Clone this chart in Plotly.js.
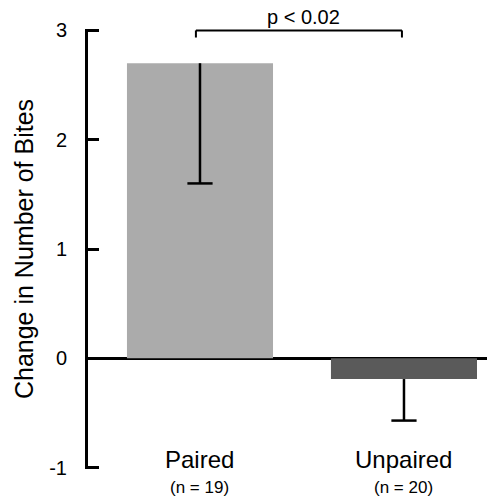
<!DOCTYPE html>
<html>
<head>
<meta charset="utf-8">
<script src="https://cdn.plot.ly/plotly-3.0.1.min.js"></script>
<style>html,body{margin:0;padding:0;background:#fff;}#chart{width:487px;height:497px;}</style>
</head>
<body>
<div id="chart"></div>
<script>
const categories = ['Paired', 'Unpaired'];
const sampleSizes = ['(n = 19)', '(n = 20)'];
const meanChange = [2.70, -0.19];
const errMinus = [1.10, 0.38];
const barColors = ['#ababab', '#5a5a5a'];
const yTicks = [-1, 0, 1, 2, 3];
const pLabel = 'p < 0.02';
const yTitle = 'Change in Number of Bites';

const FONT = 'Liberation Sans, Arial, Helvetica, sans-serif';

const traces = [{
  type: 'bar',
  x: categories,
  y: meanChange,
  width: 0.716,
  marker: {color: barColors, line: {width: 0}},
  hoverinfo: 'skip',
  showlegend: false
}];

categories.forEach((c, i) => {
  const low = meanChange[i] - errMinus[i];
  traces.push({
    type: 'scatter', mode: 'lines',
    x: [c, c], y: [meanChange[i], low],
    line: {color: '#000', width: 2.5},
    hoverinfo: 'skip', showlegend: false
  });
  traces.push({
    type: 'scatter', mode: 'markers',
    x: [c], y: [low],
    marker: {symbol: 'line-ew', size: 18, line: {color: '#000', width: 2.5}},
    hoverinfo: 'skip', showlegend: false
  });
});

const annotations = [];
categories.forEach((c, i) => {
  annotations.push({
    x: i, xref: 'x', y: 0.0205, yref: 'paper', yanchor: 'middle',
    text: c, showarrow: false, font: {family: FONT, size: 24, color: '#000'}
  });
  annotations.push({
    x: i, xref: 'x', y: -0.041, yref: 'paper', yanchor: 'middle',
    text: sampleSizes[i], showarrow: false, font: {family: FONT, size: 17, color: '#000'}
  });
});
annotations.push({
  x: 0.505, xref: 'x', y: 1.027, yref: 'paper', yanchor: 'middle',
  text: pLabel, showarrow: false, font: {family: FONT, size: 20, color: '#000'}
});

const br = {color: '#000', width: 2};
const shapes = [
  {type: 'line', xref: 'x', yref: 'y', x0: -0.02, x1: -0.02, y0: 2.935, y1: 3.0, line: br},
  {type: 'line', xref: 'x', yref: 'y', x0: -0.02, x1: 0.99, y0: 3.0, y1: 3.0, line: br},
  {type: 'line', xref: 'x', yref: 'y', x0: 0.99, x1: 0.99, y0: 2.935, y1: 3.0, line: br}
];

const layout = {
  width: 487, height: 497,
  margin: {l: 88, r: 0, t: 29, b: 28, pad: 0},
  paper_bgcolor: '#fff', plot_bgcolor: '#fff',
  font: {family: FONT, color: '#000'},
  showlegend: false,
  xaxis: {
    type: 'category', range: [-0.549, 1.407],
    showticklabels: false, showline: false, zeroline: false, showgrid: false, ticks: ''
  },
  yaxis: {
    range: [-1.013, 3.013], tickvals: yTicks, ticktext: yTicks.map(String),
    showline: true, linewidth: 3, linecolor: '#000',
    ticks: 'inside', ticklen: 11, tickwidth: 3, tickcolor: '#000',
    ticklabelstandoff: 14,
    tickfont: {family: FONT, size: 20, color: '#000'},
    showgrid: false,
    zeroline: true, zerolinewidth: 2.5, zerolinecolor: '#000',
    title: {text: yTitle, font: {family: FONT, size: 25, color: '#000'}, standoff: 9}
  },
  annotations: annotations,
  shapes: shapes
};

Plotly.newPlot('chart', traces, layout, {displayModeBar: false, staticPlot: true});
</script>
</body>
</html>
